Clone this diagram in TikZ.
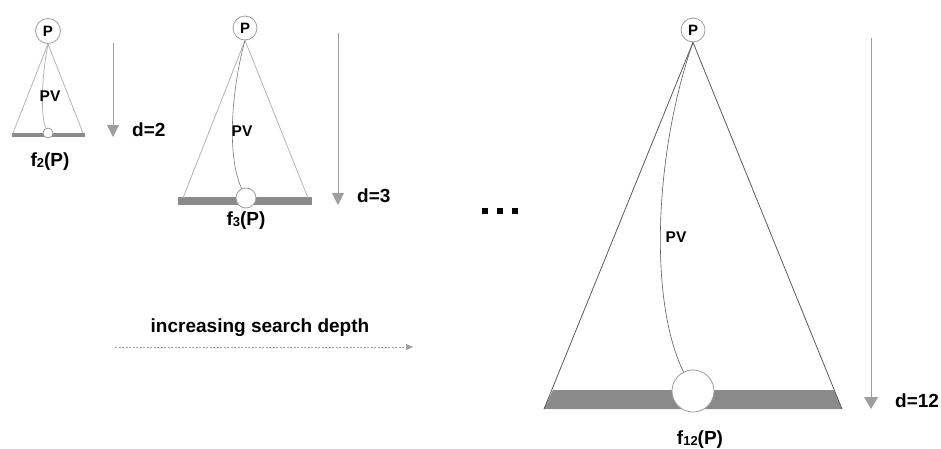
\documentclass[tikz,border=0pt]{standalone}
\usepackage{fontspec}
\setmainfont{Liberation Sans}
\usetikzlibrary{arrows.meta}
\definecolor{lightline}{HTML}{B4B4B4}
\definecolor{darkline}{HTML}{5A5A5A}
\definecolor{barfill}{HTML}{8A8A8A}
\definecolor{arrowgray}{HTML}{9E9E9E}
\begin{document}
\begin{tikzpicture}[x=1pt,y=-1pt,
  pcirc/.style={circle,draw=arrowgray,line width=0.8pt,fill=white,minimum size=24pt,inner sep=0pt,font=\fontsize{15}{15}\selectfont\bfseries},
  leaf/.style={circle,draw=arrowgray,line width=0.8pt,fill=white,inner sep=0pt},
  lbl/.style={font=\fontsize{19}{19}\selectfont\bfseries,inner sep=0pt},
  pvlbl/.style={font=\fontsize{15.5}{15.5}\selectfont\bfseries,inner sep=0pt},
  lightside/.style={draw=lightline,line width=0.8pt},
  darkside/.style={draw=darkline,line width=0.8pt},
  pvcurve/.style={draw=darkline,line width=0.6pt},
  deptharrow/.style={draw=arrowgray,line width=0.9pt,-{Triangle[width=12pt,length=12pt]}},
  dot/.style={fill=black,minimum size=5.5pt,inner sep=0pt}
]
\useasboundingbox (0,0) rectangle (941,448);
\newcommand{\sub}[1]{\raisebox{-1pt}{\fontsize{13}{13}\selectfont #1}}

% ---------- tree 1 (d=2) ----------
\coordinate (b1l) at (13,133);
\coordinate (b1r) at (83,133);
\fill[barfill] (12,133) rectangle (85,137);
\node[pcirc,minimum size=25pt] (p1) at (48,31) {P};
\draw[lightside] (p1.south) -- (b1l);
\draw[lightside] (p1.south) -- (b1r);
\node[leaf,minimum size=10pt] (l1) at (48,133) {};
\draw[lightside] (p1.south) .. controls (42,75) and (40,115) .. (l1);
\node[pvlbl] (pv1) at (50,96) {PV};
\coordinate (a1s) at (113,43);
\coordinate (a1e) at (113,137);
\draw[deptharrow] (a1s) -- (a1e);
\node[lbl,anchor=west] (d1) at (132,130) {d=2};
\node[lbl] (f1) at (50,162) {f\sub{2}(P)};

% ---------- tree 2 (d=3) ----------
\coordinate (b2l) at (183,198);
\coordinate (b2r) at (308,198);
\fill[barfill] (178,197) rectangle (312,205);
\node[pcirc] (p2) at (245,28) {P};
\draw[lightside] (p2.south) -- (b2l);
\draw[lightside] (p2.south) -- (b2r);
\node[leaf,minimum size=20pt] (l2) at (246,198) {};
\draw[pvcurve,draw=darkline!80] (p2.south) .. controls (235,75) and (224,150) .. (l2);
\node[pvlbl] (pv2) at (242,131) {PV};
\coordinate (a2s) at (338,33);
\coordinate (a2e) at (338,205);
\draw[deptharrow] (a2s) -- (a2e);
\node[lbl,anchor=west] (d2) at (357,196) {d=3};
\node[lbl] (f2) at (246,221) {f\sub{3}(P)};

% ---------- dots ----------
\node[dot] (dA) at (485,211) {};
\node[dot] (dB) at (500,211) {};
\node[dot] (dC) at (515,211) {};

% ---------- increasing search depth ----------
\node[lbl] (isd) at (260,328) {increasing search depth};
\coordinate (ds) at (115,347);
\coordinate (de) at (413,347);
\draw[draw=arrowgray,line width=0.7pt,dash pattern=on 2pt off 1.5pt,-{Triangle[width=6pt,length=7pt]}] (ds) -- (de);

% ---------- tree 3 (d=12) ----------
\coordinate (b3l) at (544,409);
\coordinate (b3r) at (842,409);
\coordinate (b3tl) at (553,390);
\coordinate (b3tr) at (834,390);
\fill[barfill] (b3l) -- (b3tl) -- (b3tr) -- (b3r) -- cycle;
\node[pcirc] (p3) at (693,30) {P};
\draw[darkside] (p3.south) -- (b3l);
\draw[darkside] (p3.south) -- (b3r);
\node[leaf,minimum size=42pt] (l3) at (693,391) {};
\draw[pvcurve] (p3.south) .. controls (655,150) and (648,300) .. (l3);
\node[pvlbl] (pv3) at (676,237) {PV};
\coordinate (a3s) at (871,38);
\coordinate (a3e) at (871,409);
\draw[deptharrow,-{Triangle[width=14pt,length=12pt]}] (a3s) -- (a3e);
\node[lbl,anchor=west] (d3) at (895,401) {d=12};
\node[lbl] (f3) at (700,440) {f\sub{12}(P)};
\end{tikzpicture}
\end{document}
